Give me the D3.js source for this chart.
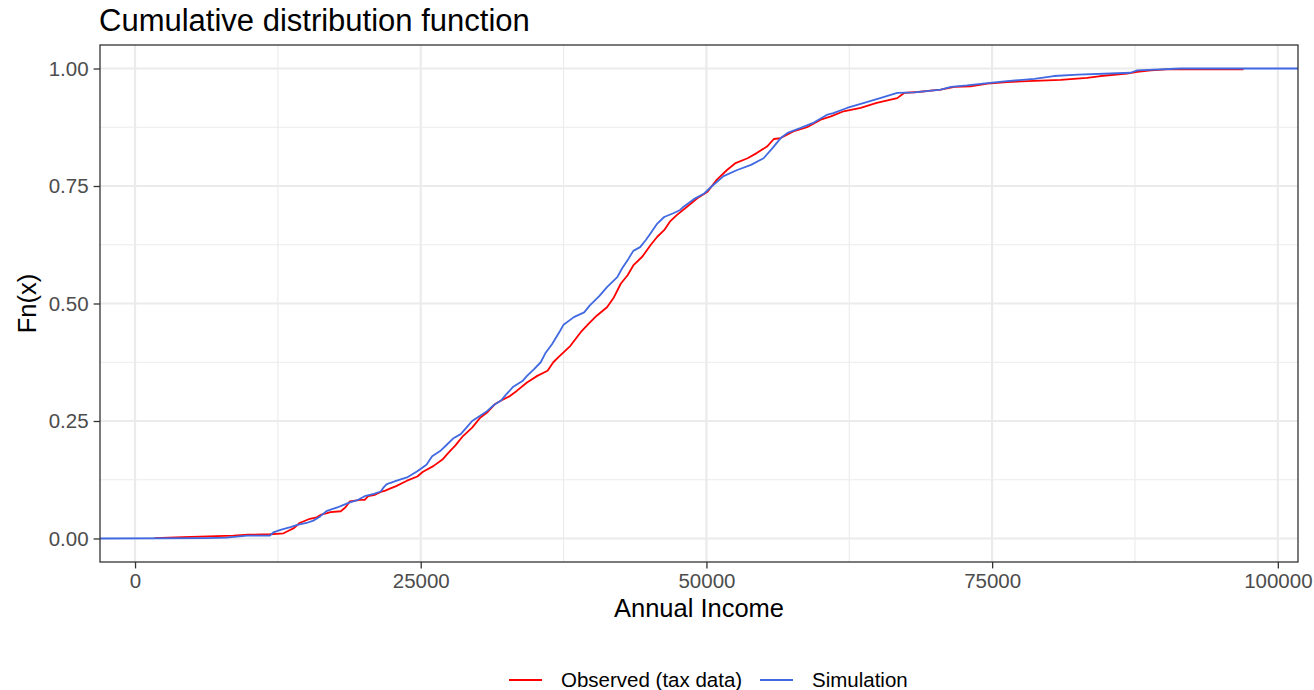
<!DOCTYPE html>
<html>
<head>
<meta charset="utf-8">
<script src="https://cdn.jsdelivr.net/npm/d3@7"></script>
<style>
  html, body { margin: 0; padding: 0; background: #ffffff; }
  svg { display: block; font-family: "Liberation Sans", Arial, sans-serif; }
</style>
</head>
<body>
<svg id="chart" width="1314" height="690"></svg>
<script>
// ---- Data ----
// Observed (tax data): annual income and empirical CDF value
const observedIncome = [1700, 4200, 8600, 9900, 11800, 12400, 13000, 13300, 13900, 14400, 15300, 15900, 16300, 16800, 17100, 18000, 18400, 18800, 19700, 20100, 20400, 21000, 21500, 21900, 22300, 22800, 23800, 24700, 25200, 26100, 26900, 27300, 27600, 28000, 28700, 29500, 30200, 30800, 31500, 32000, 32800, 33400, 34300, 35200, 36100, 36600, 37100, 38100, 39000, 39700, 40400, 41300, 41900, 42500, 43100, 43600, 44400, 45100, 45700, 46300, 46800, 47400, 48300, 49200, 50100, 50900, 51800, 52500, 53600, 54400, 55300, 55900, 56500, 57600, 58800, 60000, 60900, 62000, 63500, 64900, 66700, 67300, 68500, 70500, 71700, 73100, 74600, 76300, 78100, 81000, 83300, 84500, 86800, 87700, 88900, 90300, 97000];
const observedF = [0.001, 0.003, 0.006, 0.008, 0.009, 0.010, 0.011, 0.015, 0.022, 0.033, 0.042, 0.045, 0.051, 0.054, 0.056, 0.058, 0.066, 0.079, 0.082, 0.082, 0.090, 0.093, 0.099, 0.102, 0.106, 0.111, 0.123, 0.132, 0.142, 0.154, 0.168, 0.179, 0.187, 0.197, 0.218, 0.236, 0.257, 0.268, 0.286, 0.293, 0.303, 0.314, 0.332, 0.346, 0.357, 0.375, 0.387, 0.410, 0.439, 0.457, 0.474, 0.492, 0.513, 0.542, 0.560, 0.581, 0.600, 0.624, 0.642, 0.656, 0.674, 0.688, 0.706, 0.724, 0.738, 0.763, 0.784, 0.798, 0.809, 0.820, 0.834, 0.850, 0.852, 0.866, 0.875, 0.891, 0.898, 0.909, 0.916, 0.927, 0.937, 0.948, 0.950, 0.955, 0.961, 0.962, 0.968, 0.971, 0.973, 0.976, 0.980, 0.984, 0.989, 0.993, 0.996, 0.998, 0.998];

// Simulation: annual income and empirical CDF value
const simIncome = [6300, 8000, 9800, 11800, 12100, 12800, 13600, 14200, 15000, 15600, 16200, 16800, 17700, 18200, 18800, 19400, 20100, 20900, 21500, 21700, 22000, 22300, 22900, 23800, 24700, 25500, 26000, 26700, 27300, 27900, 28500, 29000, 29500, 30200, 30800, 31400, 32000, 32500, 33100, 33900, 34300, 34900, 35500, 35900, 36500, 37200, 37500, 38400, 39300, 39800, 40600, 41300, 42200, 42600, 43200, 43600, 44200, 44700, 45100, 45700, 46300, 47100, 47700, 48000, 48900, 49800, 50500, 51500, 52700, 53900, 55000, 55800, 56500, 57100, 58200, 59400, 60600, 61100, 62300, 63800, 65200, 66700, 68200, 70500, 71400, 72800, 74600, 76300, 78700, 80400, 82500, 87100, 87700, 91500];
const simF = [0.001, 0.002, 0.006, 0.006, 0.013, 0.019, 0.024, 0.029, 0.033, 0.038, 0.047, 0.059, 0.066, 0.071, 0.077, 0.081, 0.090, 0.095, 0.100, 0.107, 0.115, 0.118, 0.123, 0.130, 0.143, 0.157, 0.175, 0.186, 0.200, 0.214, 0.222, 0.236, 0.250, 0.261, 0.271, 0.284, 0.293, 0.307, 0.323, 0.335, 0.346, 0.360, 0.375, 0.394, 0.414, 0.442, 0.455, 0.471, 0.481, 0.496, 0.515, 0.535, 0.556, 0.574, 0.596, 0.612, 0.620, 0.635, 0.649, 0.670, 0.684, 0.692, 0.699, 0.706, 0.722, 0.734, 0.750, 0.771, 0.784, 0.795, 0.809, 0.831, 0.852, 0.863, 0.873, 0.885, 0.902, 0.905, 0.916, 0.927, 0.937, 0.948, 0.949, 0.955, 0.961, 0.964, 0.969, 0.973, 0.978, 0.984, 0.987, 0.991, 0.996, 1.000];

const seriesNames = ["Observed (tax data)", "Simulation"];
const seriesColors = ["#FF0000", "#4169E1"];
const xTicks = [0, 25000, 50000, 75000, 100000];
const xMinor = [12500, 37500, 62500, 87500];
const yTicks = [0, 0.25, 0.5, 0.75, 1];
const yMinor = [0.125, 0.375, 0.625, 0.875];

// ---- Layout ----
const svg = d3.select("#chart");
const panel = { left: 100, right: 1298, top: 45, bottom: 562 };

const xExt = d3.extent(observedIncome);
const xPad = (xExt[1] - xExt[0]) * 0.05;
const x = d3.scaleLinear().domain([xExt[0] - xPad, xExt[1] + xPad]).range([panel.left, panel.right]);
const y = d3.scaleLinear().domain([-0.05, 1.05]).range([panel.bottom, panel.top]);

// panel background
svg.append("rect")
  .attr("x", panel.left).attr("y", panel.top)
  .attr("width", panel.right - panel.left).attr("height", panel.bottom - panel.top)
  .attr("fill", "#ffffff");

// grid
const grid = svg.append("g");
grid.selectAll(".xminor").data(xMinor).join("line")
  .attr("x1", d => x(d)).attr("x2", d => x(d))
  .attr("y1", panel.top).attr("y2", panel.bottom)
  .attr("stroke", "#EBEBEB").attr("stroke-width", 1.1);
grid.selectAll(".yminor").data(yMinor).join("line")
  .attr("y1", d => y(d)).attr("y2", d => y(d))
  .attr("x1", panel.left).attr("x2", panel.right)
  .attr("stroke", "#EBEBEB").attr("stroke-width", 1.1);
grid.selectAll(".xmajor").data(xTicks).join("line")
  .attr("x1", d => x(d)).attr("x2", d => x(d))
  .attr("y1", panel.top).attr("y2", panel.bottom)
  .attr("stroke", "#EBEBEB").attr("stroke-width", 2.2);
grid.selectAll(".ymajor").data(yTicks).join("line")
  .attr("y1", d => y(d)).attr("y2", d => y(d))
  .attr("x1", panel.left).attr("x2", panel.right)
  .attr("stroke", "#EBEBEB").attr("stroke-width", 2.2);

// clip
svg.append("clipPath").attr("id", "clip").append("rect")
  .attr("x", panel.left).attr("y", panel.top)
  .attr("width", panel.right - panel.left).attr("height", panel.bottom - panel.top);

const line = d3.line().x(d => x(d[0])).y(d => y(d[1])).curve(d3.curveLinear);

const observedData = observedIncome.map((v, i) => [v, observedF[i]]);
// simulation ECDF padded to -Inf / +Inf (panel edges)
const simData = [[x.domain()[0], 0]].concat(simIncome.map((v, i) => [v, simF[i]])).concat([[x.domain()[1], 1]]);

const plotG = svg.append("g").attr("clip-path", "url(#clip)");
plotG.append("path").datum(observedData)
  .attr("d", line).attr("fill", "none")
  .attr("stroke", seriesColors[0]).attr("stroke-width", 1.8).attr("stroke-linejoin", "round");
plotG.append("path").datum(simData)
  .attr("d", line).attr("fill", "none")
  .attr("stroke", seriesColors[1]).attr("stroke-width", 1.8).attr("stroke-linejoin", "round");

// panel border
svg.append("rect")
  .attr("x", panel.left).attr("y", panel.top)
  .attr("width", panel.right - panel.left).attr("height", panel.bottom - panel.top)
  .attr("fill", "none").attr("stroke", "#333333").attr("stroke-width", 1.3);

// axes
const xAxis = d3.axisBottom(x).tickValues(xTicks).tickFormat(d3.format("d")).tickSize(6.4).tickPadding(5);
const gx = svg.append("g").attr("transform", `translate(0,${panel.bottom})`).call(xAxis);
gx.select(".domain").remove();
gx.selectAll(".tick line").attr("stroke", "#333333").attr("stroke-width", 1.3);
gx.selectAll(".tick text").attr("fill", "#4D4D4D").attr("font-size", "20.5px")
  .attr("font-family", "'Liberation Sans', Arial, sans-serif");

const yAxis = d3.axisLeft(y).tickValues(yTicks).tickFormat(d3.format(".2f")).tickSize(6.4).tickPadding(5);
const gy = svg.append("g").attr("transform", `translate(${panel.left},0)`).call(yAxis);
gy.select(".domain").remove();
gy.selectAll(".tick line").attr("stroke", "#333333").attr("stroke-width", 1.3);
gy.selectAll(".tick text").attr("fill", "#4D4D4D").attr("font-size", "20.5px")
  .attr("font-family", "'Liberation Sans', Arial, sans-serif");

// titles
svg.append("text").attr("x", panel.left - 1).attr("y", 31)
  .attr("font-size", "31px").attr("fill", "#000").text("Cumulative distribution function");
svg.append("text").attr("x", (panel.left + panel.right) / 2).attr("y", 617)
  .attr("text-anchor", "middle").attr("font-size", "25.5px").attr("fill", "#000").text("Annual Income");
svg.append("text")
  .attr("transform", `translate(36,${(panel.top + panel.bottom) / 2}) rotate(-90)`)
  .attr("text-anchor", "middle").attr("font-size", "25.5px").attr("fill", "#000").text("Fn(x)");

// legend
const legendX = [509, 760];
const leg = svg.append("g");
seriesNames.forEach((name, i) => {
  leg.append("line")
    .attr("x1", legendX[i]).attr("x2", legendX[i] + 33)
    .attr("y1", 680).attr("y2", 680)
    .attr("stroke", seriesColors[i]).attr("stroke-width", 1.8);
  leg.append("text")
    .attr("x", legendX[i] + 52).attr("y", 687)
    .attr("font-size", "20.5px").attr("fill", "#000").text(name);
});
</script>
</body>
</html>
